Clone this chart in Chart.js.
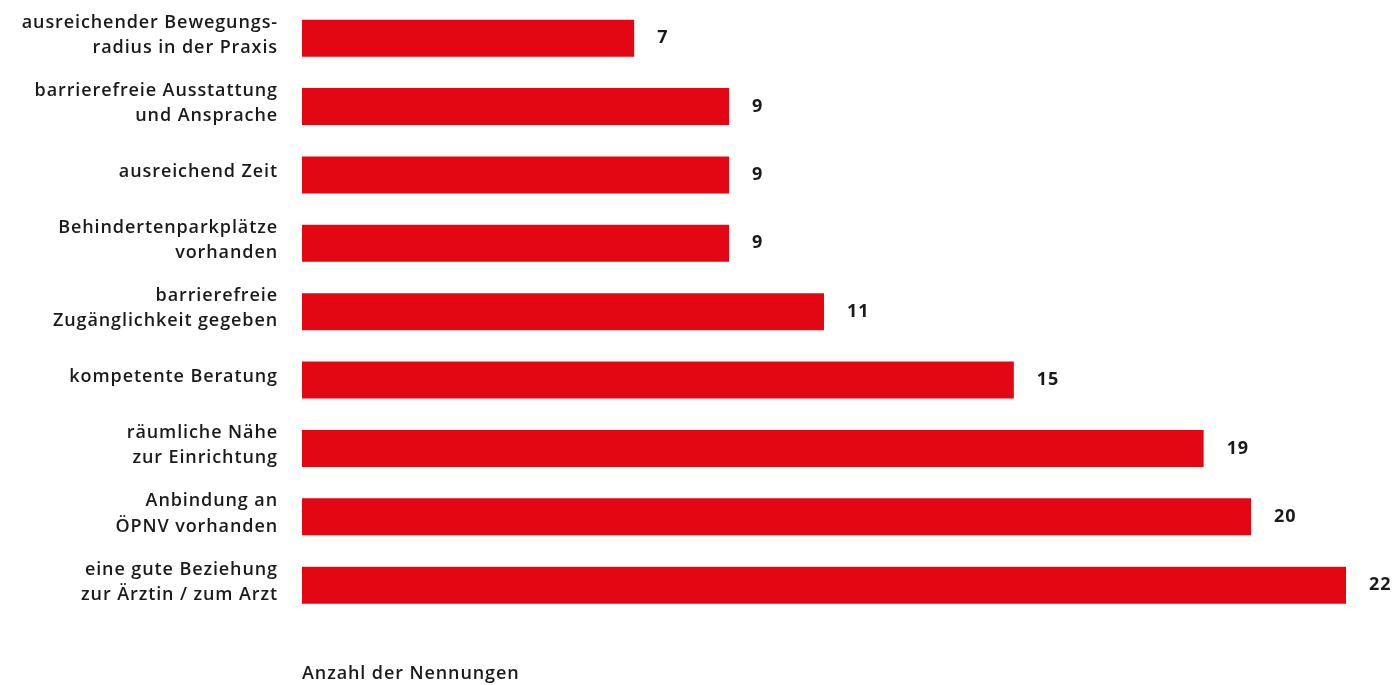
<!DOCTYPE html>
<html lang="de">
<head>
<meta charset="utf-8">
<title>Anzahl der Nennungen</title>
<script src="https://cdn.jsdelivr.net/npm/chart.js@4/dist/chart.umd.min.js"></script>
<style>
  html, body { margin: 0; padding: 0; background: #fff; }
  #wrap { width: 1392px; height: 685px; position: relative; }
</style>
</head>
<body>
<div id="wrap"><canvas id="chart"></canvas></div>
<script>
// Kategorien (mehrzeilig wie im Original)
const categories = [
  ['ausreichender Bewegungs-', 'radius in der Praxis'],
  ['barrierefreie Ausstattung', 'und Ansprache'],
  'ausreichend Zeit',
  ['Behindertenparkplätze', 'vorhanden'],
  ['barrierefreie', 'Zugänglichkeit gegeben'],
  'kompetente Beratung',
  ['räumliche Nähe', 'zur Einrichtung'],
  ['Anbindung an', 'ÖPNV vorhanden'],
  ['eine gute Beziehung', 'zur Ärztin / zum Arzt']
];
const nennungen = [7, 9, 9, 9, 11, 15, 19, 20, 22];
const axisTitle = 'Anzahl der Nennungen';

const RED = '#e30613';
const TEXT = '#1a1a1a';
const FONT = '"Open Sans", "Noto Sans", sans-serif';

// etwas Sperrung, damit die Schrift breiter läuft (wie DIN im Original)
const spacing = {
  id: 'spacing',
  beforeDraw(chart) { chart.ctx.letterSpacing = '0.9px'; }
};

// Werte rechts neben den Balken
const valueLabels = {
  id: 'valueLabels',
  afterDatasetsDraw(chart) {
    const ctx = chart.ctx;
    const meta = chart.getDatasetMeta(0);
    ctx.save();
    ctx.font = '700 18px ' + FONT;
    ctx.fillStyle = TEXT;
    ctx.textAlign = 'left';
    ctx.textBaseline = 'middle';
    meta.data.forEach((bar, i) => {
      ctx.fillText(String(nennungen[i]), bar.x + 23, bar.y);
    });
    ctx.restore();
  }
};

new Chart(document.getElementById('chart'), {
  type: 'bar',
  data: {
    labels: categories,
    datasets: [{
      data: nennungen,
      backgroundColor: RED,
      borderWidth: 0,
      categoryPercentage: 1,
      barPercentage: 0.54
    }]
  },
  options: {
    indexAxis: 'y',
    responsive: true,
    maintainAspectRatio: false,
    animation: false,
    layout: { padding: { top: 4, right: 46, bottom: 0, left: 0 } },
    scales: {
      x: {
        min: 0,
        max: 22,
        grid: { display: false },
        border: { display: false },
        ticks: { display: false },
        title: {
          display: true,
          text: axisTitle,
          align: 'start',
          color: TEXT,
          font: { family: FONT, size: 18, weight: '600', lineHeight: 1.2 },
          padding: { top: 36, bottom: 0 }
        }
      },
      y: {
        grid: { display: false, drawTicks: false },
        border: { display: false },
        afterFit(scale) {
          scale.width = 302;
          scale.paddingTop = 0;
          scale.paddingBottom = 0;
        },
        ticks: {
          padding: 24,
          labelOffset: -3,
          color: TEXT,
          font: { family: FONT, size: 18, weight: '600', lineHeight: 1.4 }
        }
      }
    },
    plugins: {
      legend: { display: false },
      tooltip: { enabled: false }
    }
  },
  plugins: [spacing, valueLabels]
});
</script>
</body>
</html>
